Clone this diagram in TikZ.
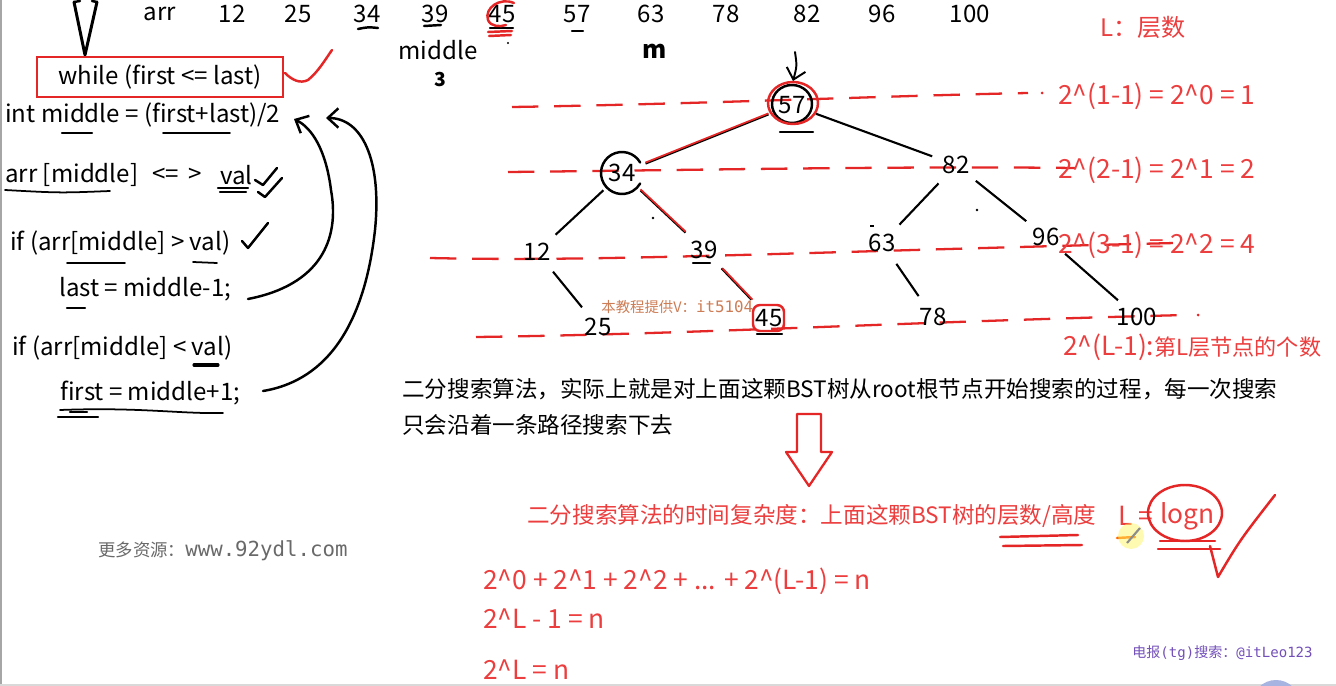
\documentclass[tikz,border=0pt]{standalone}
\usepackage{fontspec}
\setmainfont[Ligatures=NoCommon]{Noto Sans CJK SC}
\newfontfamily\wmmono{DejaVu Sans Mono}
\usetikzlibrary{arrows.meta}

\definecolor{penred}{RGB}{228,38,38}
\definecolor{txtred}{RGB}{236,62,62}
\definecolor{wmgrey}{RGB}{105,105,105}
\definecolor{wmbrown}{RGB}{205,125,85}
\definecolor{wmpurple}{RGB}{115,80,185}

\newcommand\codesize{\fontsize{13.7}{16}\selectfont}
\newcommand\redsize{\fontsize{15}{18}\selectfont}
\newcommand\redcjk{\fontsize{13.7}{16}\selectfont}
\newcommand\parasize{\fontsize{12.85}{15}\selectfont}
\newcommand\crt{\textasciicircum}

\tikzset{
  code/.style={anchor=west, inner sep=0pt, font=\codesize},
  arrnum/.style={inner sep=0pt, font=\codesize},
  tnode/.style={circle, inner sep=0pt, minimum size=1cm, font=\codesize},
  redtxt/.style={anchor=west, inner sep=0pt, text=txtred, font=\redsize},
  ink/.style={line width=1.4pt, line cap=round, line join=round},
  redink/.style={ink, draw=penred},
  levelline/.style={draw=penred, line width=1.3pt, dash pattern=on 15pt off 9pt},
  edge/.style={line width=1.2pt},
  barb/.style={-{Straight Barb[length=6pt,width=11pt]}}
}

\begin{document}
\begin{tikzpicture}[x=0.02cm, y=-0.02cm]
\useasboundingbox (0,0) rectangle (1336,686);
\fill[white] (0,0) rectangle (1336,686);
\fill[black!35] (0,0) rectangle (2,686);
\draw[black!15, line width=0.6pt] (0,685) -- (1336,685);

% sorted array on top
\node[arrnum] (arr) at (160,14) {arr};
\foreach \v/\x in {12/232,25/298,34/367,39/435,45/502,57/577,63/651,78/726,82/807,96/882,100/970}
  \node[arrnum] (a\v) at (\x,14) {\v};
\node[arrnum] (midtag) at (438,50) {middle};
\node[font=\bfseries\fontsize{11}{12}\selectfont] (three) at (440,79) {3};
\node[font=\bfseries\fontsize{14}{15}\selectfont] (mtag) at (655,51) {m};
\draw[ink] (358,29) .. controls (368,27) .. (378,28);
\draw[ink] (424,26) -- (441,25);
\draw[ink] (490,28) -- (513,28);
\draw[redink] (488,32) -- (512,31) (489,36) -- (511,35);
\draw[redink] (514,3) .. controls (500,-3) and (484,8) .. (488,20) .. controls (491,27) and (500,27) .. (506,25);
\draw[ink] (572,31) -- (583,31);
\fill (508,43) circle (1.2);

% open arrow into the loop
\draw[ink, line width=1.7pt] (74,2) -- (85,55) -- (97,2);
\draw[ink] (74,2) -- (80,1) (92,1) -- (97,2);

% code
\node[draw=penred, line width=1.3pt, minimum width=4.92cm, minimum height=0.8cm, inner sep=0pt, font=\codesize] (whilebox) at (160,77) {while (first <= last)};
\draw[redink] (285,73) .. controls (292,80) and (300,84) .. (308,80) .. controls (318,72) and (325,60) .. (332,50);
\node[code] (midln) at (5,115) {int middle = (first+last)/2};
\node[code] (cmpl) at (5,175) {arr [middle]};
\node[code] (cmpop) at (152,175) {<=\, >};
\node[code] (cmpv) at (220,175) {val};
\node[code] (ifgt) at (10,243) {if (arr[middle] > val)};
\node[code] (lastln) at (59,289) {last = middle-1;};
\node[code] (iflt) at (12,348) {if (arr[middle] < val)};
\node[code] (firstln) at (60,393) {first = middle+1;};

% underlines and ticks
\draw[ink] (62,133) -- (92,133);
\draw[ink, line width=1pt] (163,133) -- (230,133);
\draw[ink, line width=1pt] (5,190) .. controls (60,193) .. (110,191);
\draw[ink] (218,188) -- (248,188) (220,192) -- (246,192);
\draw[ink] (255,180) -- (263,185) -- (277,168);
\draw[ink] (258,192) -- (265,197) -- (282,178);
\draw[ink] (242,241) -- (248,248) -- (268,223);
\draw[ink, line width=1pt] (67,263) -- (125,263);
\draw[ink, line width=1pt] (193,262) -- (217,263);
\draw[ink] (67,308) -- (85,308);
\draw[ink, line width=1.8pt] (194,365) -- (218,365);
\draw[ink, line width=1pt] (60,410) .. controls (140,407) and (180,414) .. (223,413);
\draw[ink] (70,412) -- (87,412) (58,417) -- (98,417);

% loop back arrows
\coordinate (tailA) at (248,299);
\coordinate (tipA) at (294,119);
\coordinate (tailB) at (263,391);
\coordinate (tipB) at (326,118);
\draw[ink, barb] (tailA) .. controls (320,285) and (340,240) .. (331,190) .. controls (326,150) and (312,128) .. (tipA);
\draw[ink, barb] (tailB) .. controls (330,380) and (365,320) .. (375,230) .. controls (382,160) and (362,118) .. (tipB);

% level lines
\draw[levelline] (512,107) .. controls (700,104) and (880,96) .. (1028,93);
\fill[penred] (1042,93) circle (1.5);
\draw[levelline] (508,172) .. controls (700,170) and (900,166) .. (1075,168);
\draw[levelline] (430,258) .. controls (600,262) and (800,252) .. (1175,243);
\draw[levelline] (476,337) .. controls (700,334) and (900,322) .. (1186,315);
\fill[penred] (1198,315) circle (1.5);

% BST
\node[tnode] (t57) at (792,105) {57};
\node[tnode] (t34) at (622,173) {34};
\node[tnode] (t82) at (956,165) {82};
\node[tnode] (t12) at (537,252) {12};
\node[tnode] (t39) at (704,250) {39};
\node[tnode] (t63) at (882,243) {63};
\node[tnode] (t96) at (1046,237) {96};
\node[tnode] (t25) at (598,327) {25};
\node[tnode] (t45) at (769,318) {45};
\node[tnode] (t78) at (933,317) {78};
\node[tnode] (t100) at (1137,317) {100};
\draw[edge] (t57) -- (t34);
\draw[edge] (t57) -- (t82);
\draw[edge] (t34) -- (t12);
\draw[edge] (t34) -- (t39);
\draw[edge] (t12) -- (t25);
\draw[edge] (t39) -- (t45);
\draw[edge] (t82) -- (t63);
\draw[edge] (t82) -- (t96);
\draw[edge] (t63) -- (t78);
\draw[edge] (t96) -- (t100);
% search path
\draw[draw=penred, line width=1pt, transform canvas={yshift=0.6pt}] (t57) -- (t34);
\draw[draw=penred, line width=1pt, transform canvas={yshift=0.6pt}] (t34) -- (t39);
\draw[draw=penred, line width=1pt, transform canvas={xshift=0.6pt}] (t39) -- (t45);
\coordinate (tip57) at (793,81);
\draw[ink, barb, line width=1.1pt] (795,52) .. controls (797,66) .. (tip57);
\draw[ink] (792,104) ellipse [x radius=0.4cm, y radius=0.38cm];
\draw[redink] (793,103) ellipse [x radius=0.5cm, y radius=0.42cm];
\draw[ink] (t34.center) ++(30:0.42cm) arc[start angle=30, end angle=330, radius=0.42cm];
\draw[redink, rounded corners=4pt] (753,305) rectangle (784,331);
\draw[ink] (780,132) -- (813,132);
\draw[ink] (693,263) -- (710,263);
\draw[ink] (757,334) -- (782,334);
\fill (653,218) circle (1.3);
\fill (977,210) circle (1.3);
\draw[line width=0.8pt] (870,226) -- (874,226);

% level counts
\node[redtxt, font=\redcjk] (ltag) at (1100,27) {L：层数};
\node[redtxt] (lv1) at (1058,96) {2\crt(1-1) = 2\crt0 = 1};
\node[redtxt] (lv2) at (1058,170) {2\crt(2-1) = 2\crt1 = 2};
\node[redtxt] (lv3) at (1058,245) {2\crt(3-1) = 2\crt2 = 4};
\node[redtxt] (lvL) at (1063,347) {2\crt(L-1):{\fontsize{12.6}{15}\selectfont 第L层节点的个数}};

% explanation
\node[anchor=west, inner sep=0pt, font=\parasize] (para1) at (402,389) {二分搜索算法，实际上就是对上面这颗BST树从root根节点开始搜索的过程，每一次搜索};
\node[anchor=west, inner sep=0pt, font=\parasize] (para2) at (402,425) {只会沿着一条路径搜索下去};
\draw[redink, line width=1.3pt] (797,414) -- (797,452) -- (786,452) -- (809,486) -- (832,452) -- (821,452) -- (821,414) -- cycle;

% complexity
\node[redtxt, font=\parasize] (cplx) at (527,516) {二分搜索算法的时间复杂度：上面这颗BST树的层数/高度};
\node[redtxt] (leq) at (1118,516) {L =};
\node[redtxt] (logn) at (1160,516) {logn};
\draw[redink] (1185,513) ellipse [x radius=0.74cm, y radius=0.56cm];
\draw[redink] (1000,537) -- (1078,535) (1003,546) -- (1082,545);
\draw[ink, draw=orange!80!red] (1117,538) -- (1135,537);
\draw[redink] (1160,541) -- (1215,541) (1158,549) -- (1220,549);
\draw[redink] (1210,546) -- (1218,577) .. controls (1240,540) .. (1275,495);
\fill[yellow!60, opacity=0.5] (1131,536) circle (0.26cm);
\draw[black!45, line width=1.2pt] (1127,543) -- (1140,528);

% sum of levels
\node[redtxt] (sum1) at (483,581) {2\crt0 + 2\crt1 + 2\crt2 + ... + 2\crt(L-1) = n};
\node[redtxt] (sum2) at (483,619) {2\crt L - 1 = n};
\node[redtxt] (sum3) at (483,670) {2\crt L = n};

% watermarks
\node[anchor=west, inner sep=0pt, text=wmgrey, font=\fontsize{9.9}{11}\selectfont] (wm1) at (98,551) {更多资源：{\wmmono\fontsize{11.8}{12}\selectfont www.92ydl.com}};
\node[anchor=west, inner sep=0pt, text=wmbrown, font=\fontsize{8.2}{10}\selectfont] (wm2) at (601,307) {本教程提供V：{\wmmono\fontsize{9}{10}\selectfont it5104}};
\node[anchor=west, inner sep=0pt, text=wmpurple, font=\fontsize{8}{10}\selectfont] (wm3) at (1132,653) {电报{\wmmono (tg)}搜索：{\wmmono @itLeo123}};
\fill[cyan!35!blue!35] (1276,704) circle (0.48cm);
\end{tikzpicture}
\end{document}
